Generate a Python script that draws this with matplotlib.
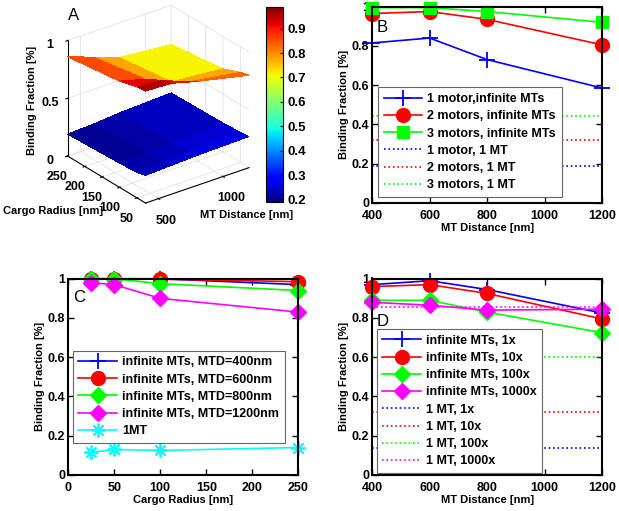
import numpy as np
import matplotlib.pyplot as plt
from matplotlib import cm
from matplotlib.colors import Normalize

plt.rcParams['font.family'] = ['Liberation Sans', 'DejaVu Sans']
plt.rcParams['font.weight'] = 'bold'
plt.rcParams['axes.labelweight'] = 'bold'

# panel A surface data
mtd_grid = [400, 600, 800, 1200]
cargo_grid = [25, 50, 100, 250]
z_inf = [[0.97, 0.96, 0.90, 0.80],
         [0.96, 0.94, 0.85, 0.78],
         [0.92, 0.86, 0.76, 0.72],
         [0.86, 0.78, 0.70, 0.66]]
z_one = [[0.24, 0.25, 0.26, 0.27],
         [0.22, 0.23, 0.25, 0.26],
         [0.21, 0.22, 0.23, 0.25],
         [0.19, 0.20, 0.22, 0.24]]

# panel B
mtd = [400, 600, 800, 1200]
b_inf1 = [0.815, 0.84, 0.73, 0.585]
b_inf2 = [0.965, 0.975, 0.935, 0.805]
b_inf3 = [0.995, 0.995, 0.975, 0.92]
b_one = [0.19, 0.32, 0.445]

# panel C
cargo = [25, 50, 100, 250]
c_400 = [1.0, 1.0, 1.0, 0.97]
c_600 = [1.0, 1.0, 0.998, 0.985]
c_800 = [1.0, 1.0, 0.975, 0.94]
c_1200 = [0.98, 0.97, 0.90, 0.83]
c_one = [0.115, 0.13, 0.125, 0.14]

# panel D
d_1x = [0.97, 0.99, 0.945, 0.825]
d_10x = [0.96, 0.97, 0.925, 0.795]
d_100x = [0.89, 0.89, 0.83, 0.725]
d_1000x = [0.88, 0.865, 0.84, 0.845]
d_one = [0.14, 0.32, 0.60, 0.855]

fig = plt.figure(figsize=(6.19, 5.11), dpi=100)
fs = 9
blue, red, green, mag, cyan = '#0000ff', '#ff0000', '#00ff00', '#ff00ff', '#00ffff'
plus = dict(marker='+', markersize=12, mew=1.3)
circ = dict(marker='o', markersize=10)
sq = dict(marker='s', markersize=8.5)
dia = dict(marker='D', markersize=8)
star = dict(marker=(8, 2, 0), markersize=10, mew=1.3)


def style(ax):
    ax.tick_params(direction='in', top=True, right=True, labelsize=fs, length=4,
                   width=1, pad=2)
    ax.tick_params(axis='x', pad=5)
    for s in ax.spines.values():
        s.set_linewidth(1.5)
    ax.set_ylim(0, 1)
    ax.set_yticks([0, 0.2, 0.4, 0.6, 0.8, 1])
    ax.set_yticklabels(['0', '0.2', '0.4', '0.6', '0.8', '1'])
    ax.set_ylabel('Binding Fraction [%]', fontsize=8, labelpad=2)


def leg(ax, anchor):
    lg = ax.legend(loc='lower left', bbox_to_anchor=anchor, borderaxespad=0,
                   fancybox=False, framealpha=1, edgecolor='#666666',
                   fontsize=9, handlelength=3.1, labelspacing=0.42,
                   borderpad=0.45, handletextpad=0.4)
    lg.get_frame().set_linewidth(0.8)


# A
ax3 = fig.add_axes([0.075, 0.577, 0.352, 0.427], projection='3d', proj_type='ortho')
X, Y = np.meshgrid(mtd_grid, cargo_grid)
norm = Normalize(0.19, 0.99)
ax3.plot_surface(X, Y, np.array(z_inf), cmap='jet', norm=norm, linewidth=0, antialiased=False)
ax3.plot_surface(X, Y, np.array(z_one), cmap='jet', norm=norm, linewidth=0, antialiased=False)
ax3.set_box_aspect((1, 1, 1))
ax3.set_xlim(400, 1200)
ax3.set_ylim(25, 250)
ax3.set_zlim(0, 1)
ax3.set_xticks([500, 1000])
ax3.set_yticks([50, 100, 150, 200, 250])
ax3.set_zticks([0, 0.5, 1])
ax3.set_zticklabels(['0', '0.5', '1'])
ax3.tick_params(labelsize=fs, pad=0)
for a in (ax3.xaxis, ax3.yaxis, ax3.zaxis):
    a.set_pane_color((1, 1, 1, 0))
    a._axinfo['grid']['color'] = '#dddddd'
    a._axinfo['grid']['linewidth'] = 0.5
ax3.view_init(elev=27, azim=-127)
fig.text(0.110, 0.961, 'A', fontsize=12, fontweight='normal')
fig.text(0.005, 0.587, 'Cargo Radius [nm]', fontsize=8, va='center')
fig.text(0.323, 0.579, 'MT Distance [nm]', fontsize=8, va='center')
fig.text(0.052, 0.804, 'Binding Fraction [%]', fontsize=8, rotation=90,
         ha='center', va='center')

cax = fig.add_axes([0.430, 0.605, 0.027, 0.382])
cb = fig.colorbar(cm.ScalarMappable(norm=norm, cmap='jet'), cax=cax)
cb.set_ticks([0.2, 0.3, 0.4, 0.5, 0.6, 0.7, 0.8, 0.9])
cb.ax.tick_params(labelsize=9.5, direction='in', length=2)

# B
axb = fig.add_axes([0.601, 0.603, 0.372, 0.384])
axb.plot(mtd, b_inf1, color=blue, lw=1.2, label='1 motor,infinite MTs', clip_on=False, **plus)
axb.plot(mtd, b_inf2, color=red, lw=1.2, label='2 motors, infinite MTs', clip_on=False, **circ)
axb.plot(mtd, b_inf3, color=green, lw=1.2, label='3 motors, infinite MTs', clip_on=False, **sq)
for v, c, lab in zip(b_one, [blue, red, green],
                     ['1 motor, 1 MT', '2 motors, 1 MT', '3 motors, 1 MT']):
    axb.plot([mtd[0], mtd[-1]], [v, v], color=c, ls=':', lw=1.2, label=lab)
style(axb)
axb.set_xlim(400, 1200)
axb.set_xticks([400, 600, 800, 1000, 1200])
axb.set_xlabel('MT Distance [nm]', fontsize=8, labelpad=1)
leg(axb, (0.026, 0.03))
axb.text(0.02, 0.87, 'B', transform=axb.transAxes, fontsize=12, fontweight='normal')

# C
axc = fig.add_axes([0.110, 0.0705, 0.372, 0.384])
axc.plot(cargo, c_400, color=blue, lw=1.2, label='infinite MTs, MTD=400nm', clip_on=False, **plus)
axc.plot(cargo, c_600, color=red, lw=1.2, label='infinite MTs, MTD=600nm', clip_on=False, **circ)
axc.plot(cargo, c_800, color=green, lw=1.2, label='infinite MTs, MTD=800nm', clip_on=False, **dia)
axc.plot(cargo, c_1200, color=mag, lw=1.2, label='infinite MTs, MTD=1200nm', clip_on=False, **dia)
axc.plot(cargo, c_one, color=cyan, lw=1.2, label='1MT', clip_on=False, **star)
style(axc)
axc.set_xlim(0, 250)
axc.set_xticks([0, 50, 100, 150, 200, 250])
axc.set_xlabel('Cargo Radius [nm]', fontsize=8, labelpad=1)
leg(axc, (0.02, 0.163))
axc.text(0.02, 0.88, 'C', transform=axc.transAxes, fontsize=12, fontweight='normal')

# D
axd = fig.add_axes([0.601, 0.0705, 0.372, 0.384])
axd.plot(mtd, d_1x, color=blue, lw=1.2, label='infinite MTs, 1x', clip_on=False, **plus)
axd.plot(mtd, d_10x, color=red, lw=1.2, label='infinite MTs, 10x', clip_on=False, **circ)
axd.plot(mtd, d_100x, color=green, lw=1.2, label='infinite MTs, 100x', clip_on=False, **dia)
axd.plot(mtd, d_1000x, color=mag, lw=1.2, label='infinite MTs, 1000x', clip_on=False, **dia)
for v, c, lab in zip(d_one, [blue, red, green, mag],
                     ['1 MT, 1x', '1 MT, 10x', '1 MT, 100x', '1 MT, 1000x']):
    axd.plot([mtd[0], mtd[-1]], [v, v], color=c, ls=':', lw=1.2, label=lab)
style(axd)
axd.set_xlim(400, 1200)
axd.set_xticks([400, 600, 800, 1000, 1200])
axd.set_xlabel('MT Distance [nm]', fontsize=8, labelpad=1)
leg(axd, (0.02, 0.01))
axd.text(0.02, 0.76, 'D', transform=axd.transAxes, fontsize=12, fontweight='normal')

fig.savefig('out.png', dpi=100)
